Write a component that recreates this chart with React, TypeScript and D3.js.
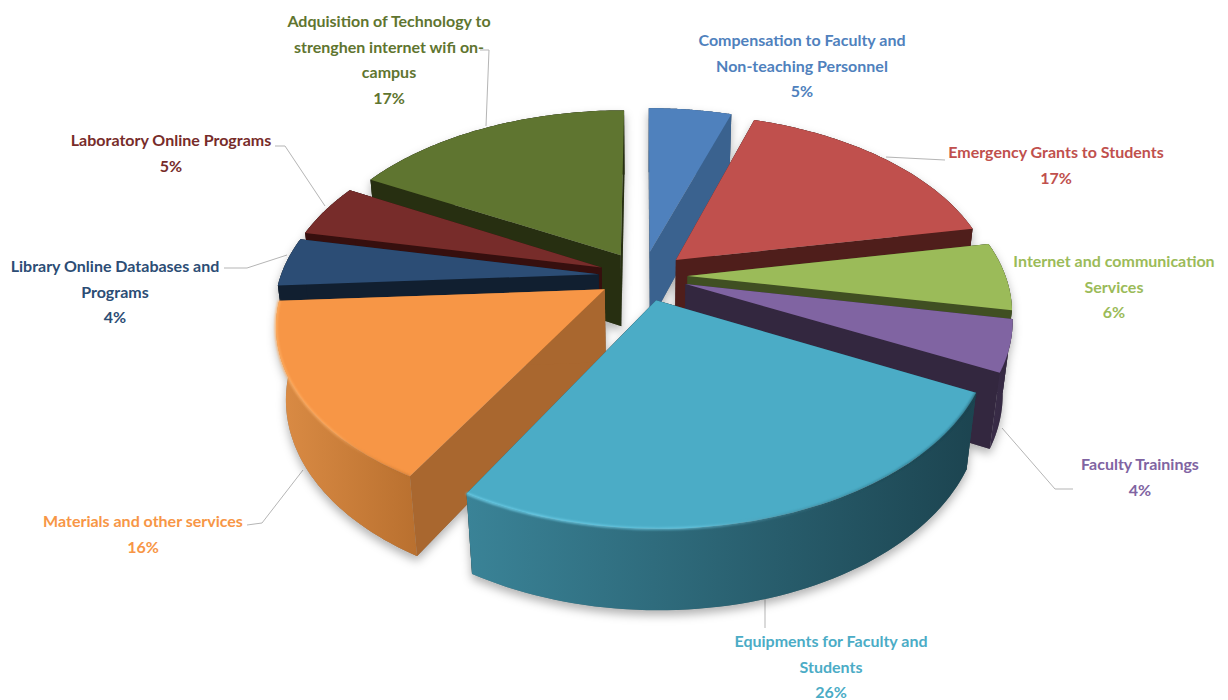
import React from "react";
import * as d3 from "d3";

const categories = ["Compensation", "Emergency", "Internet", "Trainings", "Equipments", "Materials", "Library", "Laboratory", "Technology"];
const shares = [5, 17, 6, 4.5, 25.7, 15.8, 4.3, 4.7, 17];
const percentLabels = [5, 17, 6, 4, 26, 16, 4, 5, 17];
const labelLines = [
  ["Compensation to Faculty and", "Non-teaching Personnel"],
  ["Emergency Grants to Students"],
  ["Internet and communication", "Services"],
  ["Faculty Trainings"],
  ["Equipments for Faculty and", "Students"],
  ["Materials and other services"],
  ["Library Online Databases and", "Programs"],
  ["Laboratory Online Programs"],
  ["Adquisition of Technology to", "strenghen internet wifi on-", "campus"],
];
const topColors = ["#4f81bd", "#c0504d", "#9bbb59", "#8064a2", "#4bacc6", "#f79646", "#2c4d75", "#772c2a", "#5f7530"];
const cutColors = ["#3a628f", "#4f1e1b", "#404f22", "#33273f", "#1e4650", "#a9672f", "#111f30", "#360f0e", "#272f11"];
const rimLeft = ["#3a628f", "#4f1e1b", "#404f22", "#3a2d49", "#3a8397", "#db8c45", "#111f30", "#360f0e", "#272f11"];
const rimRight = ["#3a628f", "#4f1e1b", "#404f22", "#33273f", "#1c4450", "#b9702f", "#111f30", "#360f0e", "#272f11"];
const edgeColors = ["none", "none", "none", "none", "#6fd0ea", "#ffb066", "none", "none", "none"];
const sliceScale = [1, 1, 1, 1, 1.008, 1, 1, 1, 1];
const labelAnchors = [[802, 46], [1056, 158], [1114, 267], [1140, 470], [831, 647], [143, 527], [115, 272], [171, 146], [389, 27]];
const leaders = [
  [],
  [[886, 157], [945, 160]],
  [],
  [[1002, 428], [1055, 489], [1073, 489]],
  [[765, 598], [765, 628]],
  [[303, 470], [262, 523], [247, 525]],
  [[287, 255], [247, 268], [224, 268]],
  [[325, 206], [285, 146], [275, 146]],
  [[486, 126], [489, 50], [480, 50]],
];
const paintOrder = [8, 0, 7, 1, 6, 2, 3, 5, 4];

const W = 1228, H = 700;
const CX = 643, CY = 276, R = 318, TILT = 33.8 * Math.PI / 180, DIST = 4.73, DEPTH = 0.28, EXPLODE = 0.14, DEPTH_SHRINK = 0.8;

function project(u: number, v: number, h: number): [number, number] {
  const yy = v * Math.sin(TILT) + h * Math.cos(TILT);
  const zz = v * Math.cos(TILT) - DEPTH_SHRINK * h * Math.sin(TILT);
  const s = DIST / (DIST + zz);
  return [CX + R * u * s, CY - R * yy * s];
}

const pieGen = d3.pie<number>().sort(null).startAngle(0).endAngle(2 * Math.PI);
const arcs = pieGen(shares);
const line = d3.line();

function sliceShapes(a0: number, a1: number, scale: number) {
  const mid = (a0 + a1) / 2;
  const ox = EXPLODE * Math.sin(mid), oy = EXPLODE * Math.cos(mid);
  const at = (a: number, r: number, h: number) => project(ox + scale * r * Math.sin(a), oy + scale * r * Math.cos(a), h);
  const angles = d3.range(0, 61).map((i) => a0 + ((a1 - a0) * i) / 60);
  const topArc = angles.map((a) => at(a, 1, 0));
  const lowArc = angles.map((a) => at(a, 1, -DEPTH));
  return {
    back: Math.cos(mid) > 0,
    top: line([at(0, 0, 0), ...topArc])! + "Z",
    rim: line([...topArc, ...lowArc.slice().reverse()])! + "Z",
    cut0: line([at(0, 0, 0), at(a0, 1, 0), at(a0, 1, -DEPTH), at(0, 0, -DEPTH)])! + "Z",
    cut1: line([at(0, 0, 0), at(a1, 1, 0), at(a1, 1, -DEPTH), at(0, 0, -DEPTH)])! + "Z",
    edge: line(topArc)!,
  };
}

export default function App() {
  const font = "Lato, 'Noto Sans', sans-serif";
  const shapes = paintOrder.map((i) => ({ i, s: sliceShapes(arcs[i].startAngle, arcs[i].endAngle, sliceScale[i]) }));
  return (
    <svg width={W} height={H} viewBox={`0 0 ${W} ${H}`} style={{ position: "absolute", left: 0, top: 0, background: "#fff" }}>
      <defs>
        <filter id="shadow" x="-10%" y="-10%" width="120%" height="120%">
          <feDropShadow dx="0" dy="5" stdDeviation="5" floodColor="#000" floodOpacity="0.3" />
        </filter>
        <filter id="soft" x="-5%" y="-5%" width="110%" height="110%">
          <feGaussianBlur stdDeviation="0.8" />
        </filter>
        {categories.map((c, i) => (
          <linearGradient key={c} id={`rim${i}`} x1="0" x2="1" y1="0" y2="0">
            <stop offset="0" stopColor={rimLeft[i]} />
            <stop offset="1" stopColor={rimRight[i]} />
          </linearGradient>
        ))}
        {categories.map((c, i) => (
          <linearGradient key={c} id={`edge${i}`} x1="0" x2="1" y1="0" y2="0">
            <stop offset="0" stopColor={edgeColors[i]} />
            <stop offset="0.45" stopColor={edgeColors[i]} stopOpacity="0.7" />
            <stop offset="0.8" stopColor={rimRight[i]} stopOpacity="0.35" />
            <stop offset="1" stopColor={rimRight[i]} stopOpacity="0.6" />
          </linearGradient>
        ))}
      </defs>
      {leaders.map((pts, i) =>
        pts.length ? <path key={i} d={line(pts as [number, number][])!} fill="none" stroke="#b5b5b5" strokeWidth={1} /> : null
      )}
      <g filter="url(#shadow)">
        {shapes.map(({ i, s }) => (
          <g key={i} fill="#888">
            <path d={s.rim} />
            <path d={s.cut0} />
            <path d={s.cut1} />
            <path d={s.top} />
          </g>
        ))}
      </g>
      {shapes.map(({ i, s }) => (
        <g key={categories[i]}>
          {s.back && <path d={s.rim} fill={`url(#rim${i})`} />}
          <path d={s.cut0} fill={cutColors[i]} />
          <path d={s.cut1} fill={cutColors[i]} />
          {!s.back && <path d={s.rim} fill={`url(#rim${i})`} />}
          <path d={s.top} fill={topColors[i]} />
          {edgeColors[i] !== "none" && (
            <path d={s.edge} fill="none" stroke={`url(#edge${i})`} strokeWidth={2.2} filter="url(#soft)" />
          )}
        </g>
      ))}
      {labelLines.map((lines, i) => {
        const [x, y] = labelAnchors[i];
        return (
          <text key={i} x={x} y={y} textAnchor="middle" fontFamily={font} fontWeight={700} fontSize={16} fill={topColors[i]}>
            {lines.map((t, j) => (
              <tspan key={j} x={x} dy={j === 0 ? 0 : 25.5}>{t}</tspan>
            ))}
            <tspan x={x} dy={25.5}>{percentLabels[i]}%</tspan>
          </text>
        );
      })}
    </svg>
  );
}
